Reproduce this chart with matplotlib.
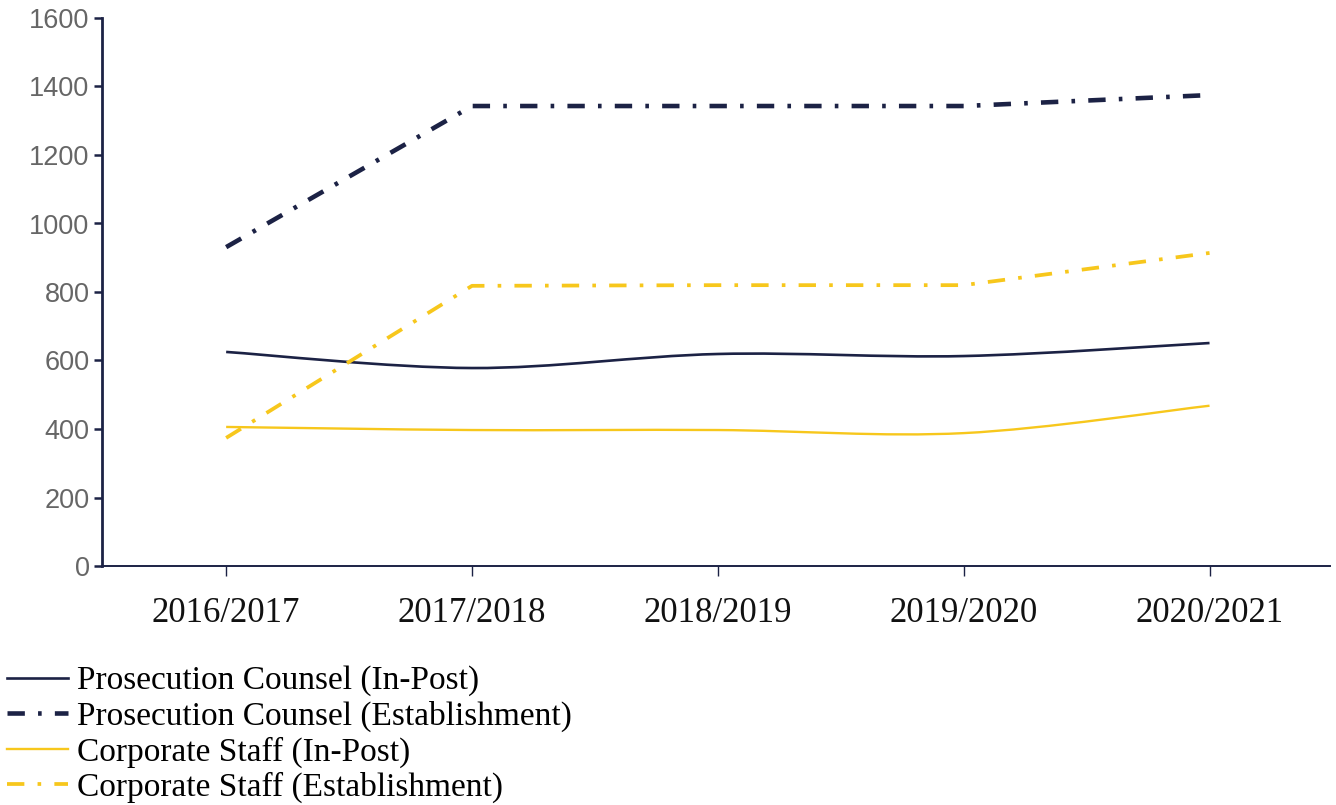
import matplotlib.pyplot as plt
import numpy as np
from matplotlib.lines import Line2D
from matplotlib.patches import PathPatch
from matplotlib.path import Path

years = ["2016/2017", "2017/2018", "2018/2019", "2019/2020", "2020/2021"]
pc_in_post = [625, 578, 619, 613, 651]
pc_establishment = [931, 1343, 1343, 1343, 1375]
cs_in_post = [406, 397, 397, 388, 468]
cs_establishment = [374, 818, 820, 820, 914]

NAVY = "#1c2245"
GOLD = "#f7c71c"


def dashdot(lw):
    # dash / dot pattern given in points, matplotlib scales it by linewidth
    dash, gap, dot = 12.5, 9.5, 2.6
    return (0, (dash / lw, gap / lw, dot / lw, gap / lw))


def smooth_path(x, y):
    # smoothed line: Catmull-Rom segments as cubic Beziers
    pts = np.column_stack([x, y]).astype(float)
    n = len(pts)
    verts = [pts[0]]
    codes = [Path.MOVETO]
    for i in range(n - 1):
        p0 = pts[max(i - 1, 0)]
        p1 = pts[i]
        p2 = pts[i + 1]
        p3 = pts[min(i + 2, n - 1)]
        c1 = p1 + (p2 - p0) / 6
        c2 = p2 - (p3 - p1) / 6
        verts += [c1, c2, p2]
        codes += [Path.CURVE4] * 3
    return Path(verts, codes)


fig = plt.figure(figsize=(13.36, 8.05), dpi=100)
ax = fig.add_axes([102 / 1336, 1 - 566 / 805, (1330 - 102) / 1336, (566 - 18) / 805])

xs = np.arange(len(years))

in_post = [
    ("Prosecution Counsel (In-Post)", pc_in_post, NAVY, 1.9),
    ("Corporate Staff (In-Post)", cs_in_post, GOLD, 1.7),
]
establishment = [
    ("Prosecution Counsel (Establishment)", pc_establishment, NAVY, 3.3),
    ("Corporate Staff (Establishment)", cs_establishment, GOLD, 2.7),
]

# in-post lines are smoothed, establishment lines are straight
h = {}
for label, vals, color, lw in in_post:
    ax.add_patch(PathPatch(smooth_path(xs, vals), fill=False, edgecolor=color,
                           linewidth=lw))
    h[label] = Line2D([], [], color=color, linewidth=lw, label=label)

for label, vals, color, lw in establishment:
    (line,) = ax.plot(xs, vals, color=color, linewidth=lw, linestyle=dashdot(lw),
                      label=label)
    h[label] = line

order = [
    "Prosecution Counsel (In-Post)",
    "Prosecution Counsel (Establishment)",
    "Corporate Staff (In-Post)",
    "Corporate Staff (Establishment)",
]
handles = [h[k] for k in order]

ax.set_xlim(-0.505, 4.49)
ax.set_ylim(0, 1600)
ax.set_yticks(range(0, 1601, 200))
ax.set_xticks(xs)
ax.set_xticklabels(years, fontfamily="Liberation Serif", fontsize=25, color="#111111")

for lab in ax.get_yticklabels():
    lab.set_fontfamily("Liberation Sans")
ax.tick_params(axis="y", labelsize=19.5, labelcolor="#666666", color=NAVY,
               length=6, width=1.8, pad=3)
ax.tick_params(axis="x", color=NAVY, length=7, width=1, pad=15)

for side in ("top", "right"):
    ax.spines[side].set_visible(False)
ax.spines["left"].set_color(NAVY)
ax.spines["left"].set_linewidth(2)
ax.spines["bottom"].set_color(NAVY)
ax.spines["bottom"].set_linewidth(1.4)

fig.legend(handles=handles, loc="upper left", bbox_to_anchor=(0.0, 1 - 659 / 805),
           frameon=False, prop={"family": "Liberation Serif", "size": 24},
           handlelength=1.85, handletextpad=0.25, labelspacing=0.13,
           borderaxespad=0, borderpad=0.2)

fig.savefig("out.png", dpi=100, facecolor="white")
